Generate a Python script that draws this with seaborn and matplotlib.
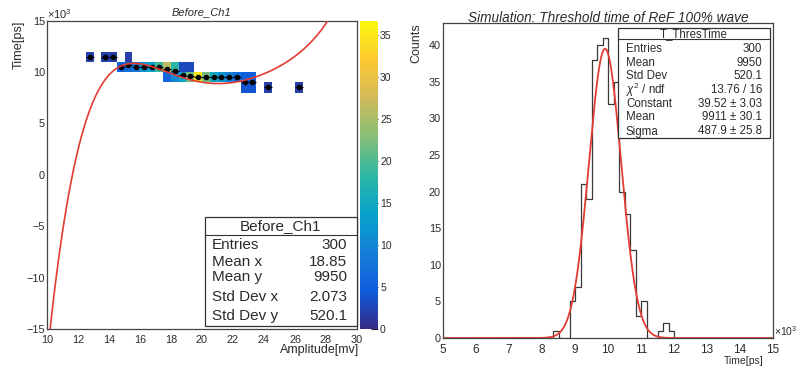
import numpy as np
import pandas as pd
import matplotlib
matplotlib.use("Agg")
import matplotlib.pyplot as plt
from matplotlib.colors import LinearSegmentedColormap
from matplotlib.patches import Rectangle
from matplotlib.lines import Line2D
from matplotlib.ticker import MultipleLocator, FuncFormatter
import seaborn as sns

sns.set_style("white")
plt.rcParams["font.family"] = ["Liberation Sans", "DejaVu Sans"]
plt.rcParams["mathtext.fontset"] = "custom"
plt.rcParams["mathtext.rm"] = "Liberation Sans"
plt.rcParams["mathtext.it"] = "Liberation Sans:italic"

# ---- Before_Ch1: filled cells of the amplitude / threshold-time histogram ----
cell_amp = [12.75, 13.75, 14.25, 15.25,
            14.75, 15.25, 15.75, 16.25, 16.75, 17.25, 17.75, 18.25, 18.75, 19.25,
            17.75, 18.25, 18.75, 19.25, 19.75, 20.25, 20.75, 21.25, 21.75, 22.25, 22.75, 23.25,
            22.75, 23.25, 24.25, 26.25]
cell_time = [11500, 11500, 11500, 11500,
             10500, 10500, 10500, 10500, 10500, 10500, 10500, 10500, 10500, 10500,
             9500, 9500, 9500, 9500, 9500, 9500, 9500, 9500, 9500, 9500, 9500, 9500,
             8500, 8500, 8500, 8500]
cell_counts = [2, 2, 2, 2,
               6, 7, 8, 12, 13, 19, 26, 18, 3, 3,
               6, 10, 14, 22, 35, 22, 15, 12, 9, 7, 5, 5,
               4, 4, 2, 2]

# pol5 fit of the profile, in (amplitude - 18 mV), result in units of 10^3 ps
pol_center = 18.0
pol_coef = [1.741682e-04, -3.583185e-03, 2.630165e-02, 2.554904e-02,
            -5.568462e-01, 9.864274e+00]

# ---- T_ThresTime: 60 bins from 5000 to 15000 ps ----
thres_counts = [0] * 20 + [1, 0, 0, 5, 7, 21, 19, 38, 40, 41, 32, 35, 20, 17, 12, 3, 5,
                           0, 0, 1, 2, 1] + [0] * 18
gaus_const, gaus_mean, gaus_sigma = 39.52, 9911.0, 487.9

left_stats = [("Entries", "300"), ("Mean x", "18.85"), ("Mean y", "9950"),
              ("Std Dev x", "2.073"), ("Std Dev y", "520.1")]
right_stats = [("Entries", "300"), ("Mean", "9950"), ("Std Dev", "520.1"),
               (r"$\chi^{2}$ / ndf", "13.76 / 16"), ("Constant", "39.52 \u00b1 3.03"),
               ("Mean", "9911 \u00b1 30.1"), ("Sigma", "487.9 \u00b1 25.8")]

RED = "#e23c33"
INK = "#2b2b2b"

bird_stops = [0.0, 0.125, 0.25, 0.375, 0.5, 0.625, 0.75, 0.875, 1.0]
bird_r = [0.2082, 0.0592, 0.0780, 0.0232, 0.1802, 0.5301, 0.8186, 0.9956, 0.9764]
bird_g = [0.1664, 0.3599, 0.5041, 0.6419, 0.7178, 0.7492, 0.7328, 0.7862, 0.9832]
bird_b = [0.5293, 0.8684, 0.8385, 0.7914, 0.6425, 0.4662, 0.3499, 0.1968, 0.0539]
bird = LinearSegmentedColormap.from_list(
    "bird", list(zip(bird_stops, zip(bird_r, bird_g, bird_b))), N=255)

W, H = 798, 367
fig = plt.figure(figsize=(W / 100, H / 100), dpi=100)


def fbox(x0, y0, x1, y1):
    return [x0 / W, 1 - y1 / H, (x1 - x0) / W, (y1 - y0) / H]


def fx(px):
    return px / W


def fy(py):
    return 1 - py / H


ax1 = fig.add_axes(fbox(47, 20.7, 357, 329))
cax = fig.add_axes(fbox(360, 20.7, 378, 329))
ax2 = fig.add_axes(fbox(443, 23, 773, 338))

# ---- left pad: COLZ histogram, profile and polynomial fit ----
amp_edges = np.arange(10, 30.001, 0.5)
time_edges = np.arange(-15000, 15001, 1000)
sns.histplot(x=cell_amp, y=cell_time, weights=cell_counts,
             bins=[amp_edges, time_edges], cmap=bird, vmin=0, vmax=36.75,
             cbar=True, cbar_ax=cax, ax=ax1)

cells = pd.DataFrame({"amp": cell_amp, "time": cell_time, "n": cell_counts})
cells["tw"] = cells["time"] * cells["n"]
grp = cells.groupby("amp")[["tw", "n"]].sum()
profile = grp["tw"] / grp["n"]
ax1.errorbar(profile.index, profile.values, xerr=0.25, fmt="o", ms=3,
             color="black", elinewidth=0.8, capsize=0, zorder=4)

xs = np.linspace(10, 30, 800)
sns.lineplot(x=xs, y=np.polyval(pol_coef, xs - pol_center) * 1000, ax=ax1,
             color=RED, lw=1.2, estimator=None, sort=False, zorder=5)

ax1.set_xlim(10, 30)
ax1.set_ylim(-15000, 15000)
ax1.set_xlabel("")
ax1.set_ylabel("")
ax1.xaxis.set_major_locator(MultipleLocator(2))
ax1.xaxis.set_minor_locator(MultipleLocator(0.4))
ax1.yaxis.set_major_locator(MultipleLocator(5000))
ax1.yaxis.set_minor_locator(MultipleLocator(1000))
kfmt = FuncFormatter(lambda v, p: f"{v / 1000:g}".replace("-", "\u2212"))
ax1.yaxis.set_major_formatter(kfmt)

cax.yaxis.set_major_locator(MultipleLocator(5))
cax.tick_params(axis="y", direction="in", length=5, width=0.8, labelsize=7.5,
                pad=1.5, colors=INK)
for s in cax.spines.values():
    s.set_visible(False)

# ---- right pad: histogram with gaussian fit ----
thres_df = pd.DataFrame({
    "t": 5000 + (np.arange(60) + 0.5) * (10000 / 60),
    "n": thres_counts,
})
sns.histplot(data=thres_df, x="t", weights="n", bins=60, binrange=(5000, 15000),
             element="step", fill=False, color="#3a3a3a", linewidth=0.9, ax=ax2)
gx = np.linspace(5000, 15000, 1000)
gy = gaus_const * np.exp(-0.5 * ((gx - gaus_mean) / gaus_sigma) ** 2)
sns.lineplot(x=gx, y=gy, ax=ax2, color=RED, lw=1.3, estimator=None, sort=False)
ax2.set_xlim(5000, 15000)
ax2.set_ylim(0, 43.05)
ax2.set_xlabel("")
ax2.set_ylabel("")
ax2.xaxis.set_major_locator(MultipleLocator(1000))
ax2.xaxis.set_minor_locator(MultipleLocator(200))
ax2.yaxis.set_major_locator(MultipleLocator(5))
ax2.yaxis.set_minor_locator(MultipleLocator(1))
ax2.xaxis.set_major_formatter(kfmt)

for ax, xs_lab, ys_lab in ((ax1, 7.8, 7.8), (ax2, 8.5, 7.8)):
    ax.grid(False)
    ax.tick_params(which="both", direction="in", colors=INK, width=0.8,
                   top=False, right=False)
    ax.tick_params(which="major", length=7)
    ax.tick_params(which="minor", length=3.5)
    ax.tick_params(axis="x", labelsize=xs_lab, pad=4)
    ax.tick_params(axis="y", labelsize=ys_lab, pad=1.5)
    for s in ax.spines.values():
        s.set_color("#444444")
        s.set_linewidth(0.9)

# ---- titles and axis titles ----
fig.text(fx(202), fy(12), "Before_Ch1", style="italic", fontsize=8,
         ha="center", va="center", color=INK)
fig.text(fx(608), fy(17.5), "Simulation: Threshold time of ReF 100% wave",
         style="italic", fontsize=9.8, ha="center", va="center", color=INK)
fig.text(fx(19), fy(20.5), "Time[ps]", rotation=90, fontsize=9.2,
         ha="center", va="top", color=INK)
fig.text(fx(47), fy(14), r"$\times10^{3}$", fontsize=8, ha="left",
         va="center", color=INK)
fig.text(fx(359), fy(350), "Amplitude[mv]", fontsize=9, ha="right",
         va="center", color=INK)
fig.text(fx(416), fy(23), "Counts", rotation=90, fontsize=9, ha="center",
         va="top", color=INK)
fig.text(fx(764), fy(361), "Time[ps]", fontsize=7.5, ha="right", va="center",
         color=INK)
fig.text(fx(774), fy(331), r"$\times10^{3}$", fontsize=7.5, ha="left",
         va="center", color=INK)


# ---- statistics boxes ----
def stat_box(x0, y0, x1, y1, sep, title, title_y, rows, rows_y, lab_x, val_x, fs):
    fig.add_artist(Rectangle((fx(x0), fy(y1)), (x1 - x0) / W, (y1 - y0) / H,
                             transform=fig.transFigure, facecolor="white",
                             edgecolor="#333333", lw=0.9, zorder=6))
    fig.add_artist(Line2D([fx(x0), fx(x1)], [fy(sep), fy(sep)],
                          transform=fig.transFigure, color="#333333", lw=0.8,
                          zorder=7))
    fig.text(fx((x0 + x1) / 2), fy(title_y), title, fontsize=fs, ha="center",
             va="center", color=INK, zorder=8)
    for (lab, val), yy in zip(rows, rows_y):
        fig.text(fx(lab_x), fy(yy), lab, fontsize=fs, ha="left", va="center",
                 color=INK, zorder=8)
        fig.text(fx(val_x), fy(yy), val, fontsize=fs, ha="right", va="center",
                 color=INK, zorder=8)


stat_box(205, 217, 356.7, 325.5, 235, "Before_Ch1", 226, left_stats,
         [245, 262, 277, 297, 316], 212, 347, 11)
stat_box(618, 28.3, 770, 138, 39.3, "T_ThresTime", 33.8, right_stats,
         [49, 62.5, 76, 90, 104, 117.5, 131.5], 626, 762, 8.3)

fig.savefig("out.png", dpi=100)
